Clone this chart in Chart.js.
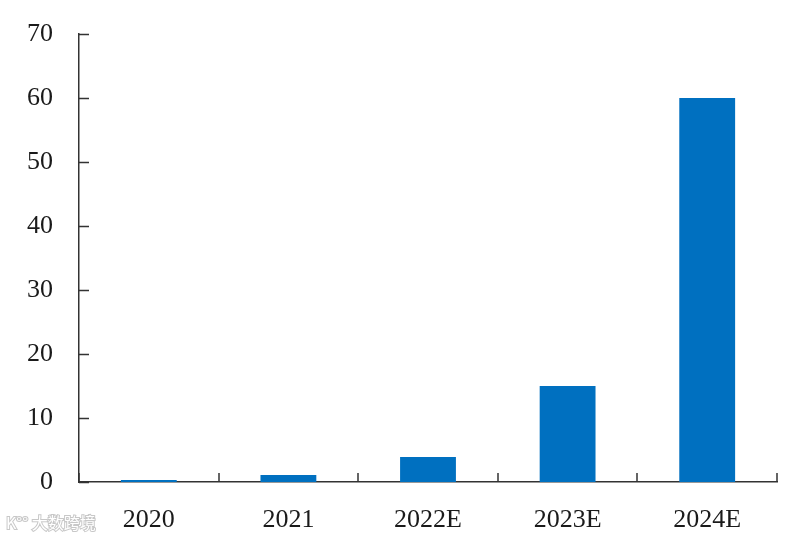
<!DOCTYPE html>
<html>
<head>
<meta charset="utf-8">
<script src="https://cdn.jsdelivr.net/npm/chart.js@4.4.1/dist/chart.umd.min.js"></script>
<style>
html,body{margin:0;padding:0;background:#fff;}
#wrap{width:802px;height:544px;position:relative;}
</style>
</head>
<body>
<div id="wrap"><canvas id="c" width="802" height="544"></canvas></div>
<script>
const categories = ['2020', '2021', '2022E', '2023E', '2024E'];
const values = [0.3, 1.1, 3.9, 15, 60];
const yTicks = [0, 10, 20, 30, 40, 50, 60, 70];

const axisColor = '#333333';

const innerTicks = {
  id: 'innerTicks',
  afterDraw(chart) {
    const ctx = chart.ctx;
    const x = chart.scales.x, y = chart.scales.y;
    ctx.save();
    ctx.strokeStyle = axisColor;
    ctx.lineWidth = 1.5;
    ctx.beginPath();
    yTicks.forEach(v => {
      const py = Math.round(y.getPixelForValue(v)) + 0.5;
      ctx.moveTo(y.right, py);
      ctx.lineTo(y.right + 10, py);
    });
    const n = categories.length;
    for (let i = 0; i <= n; i++) {
      const px = Math.round(x.getPixelForValue(i - 0.5));
      ctx.moveTo(px, x.top);
      ctx.lineTo(px, x.top - 9);
    }
    ctx.stroke();
    // watermark
    ctx.font = '16px "Noto Sans CJK SC"';
    ctx.textBaseline = 'middle';
    ctx.lineWidth = 2;
    ctx.strokeStyle = '#c8c8c8';
    ctx.fillStyle = '#ffffff';
    ctx.strokeText('K°° 大数跨境', 6, 523);
    ctx.fillText('K°° 大数跨境', 6, 523);
    ctx.restore();
  }
};

new Chart(document.getElementById('c'), {
  type: 'bar',
  data: {
    labels: categories,
    datasets: [{
      data: values,
      backgroundColor: '#0070C0',
      borderWidth: 0,
      barPercentage: 0.4,
      categoryPercentage: 1.0
    }]
  },
  options: {
    responsive: false,
    animation: false,
    layout: { padding: { top: 34, right: 25, left: 0, bottom: 0 } },
    plugins: { legend: { display: false }, tooltip: { enabled: false } },
    scales: {
      x: {
        grid: { display: false, drawTicks: false },
        border: { display: true, color: axisColor, width: 1.5 },
        ticks: { color: '#1a1a1a', font: { family: '"Liberation Serif"', size: 26 }, padding: 23, maxRotation: 0 },
        afterFit(s) { s.height = 62; s.paddingLeft = 0; s.paddingRight = 0; }
      },
      y: {
        min: 0, max: 70,
        grid: { display: false, drawTicks: false },
        border: { display: true, color: axisColor, width: 1.5 },
        ticks: { stepSize: 10, color: '#1a1a1a', font: { family: '"Liberation Serif"', size: 26 }, padding: 26 },
        afterFit(s) { s.width = 79; s.paddingTop = 0; s.paddingBottom = 0; }
      }
    }
  },
  plugins: [innerTicks]
});
</script>
</body>
</html>
